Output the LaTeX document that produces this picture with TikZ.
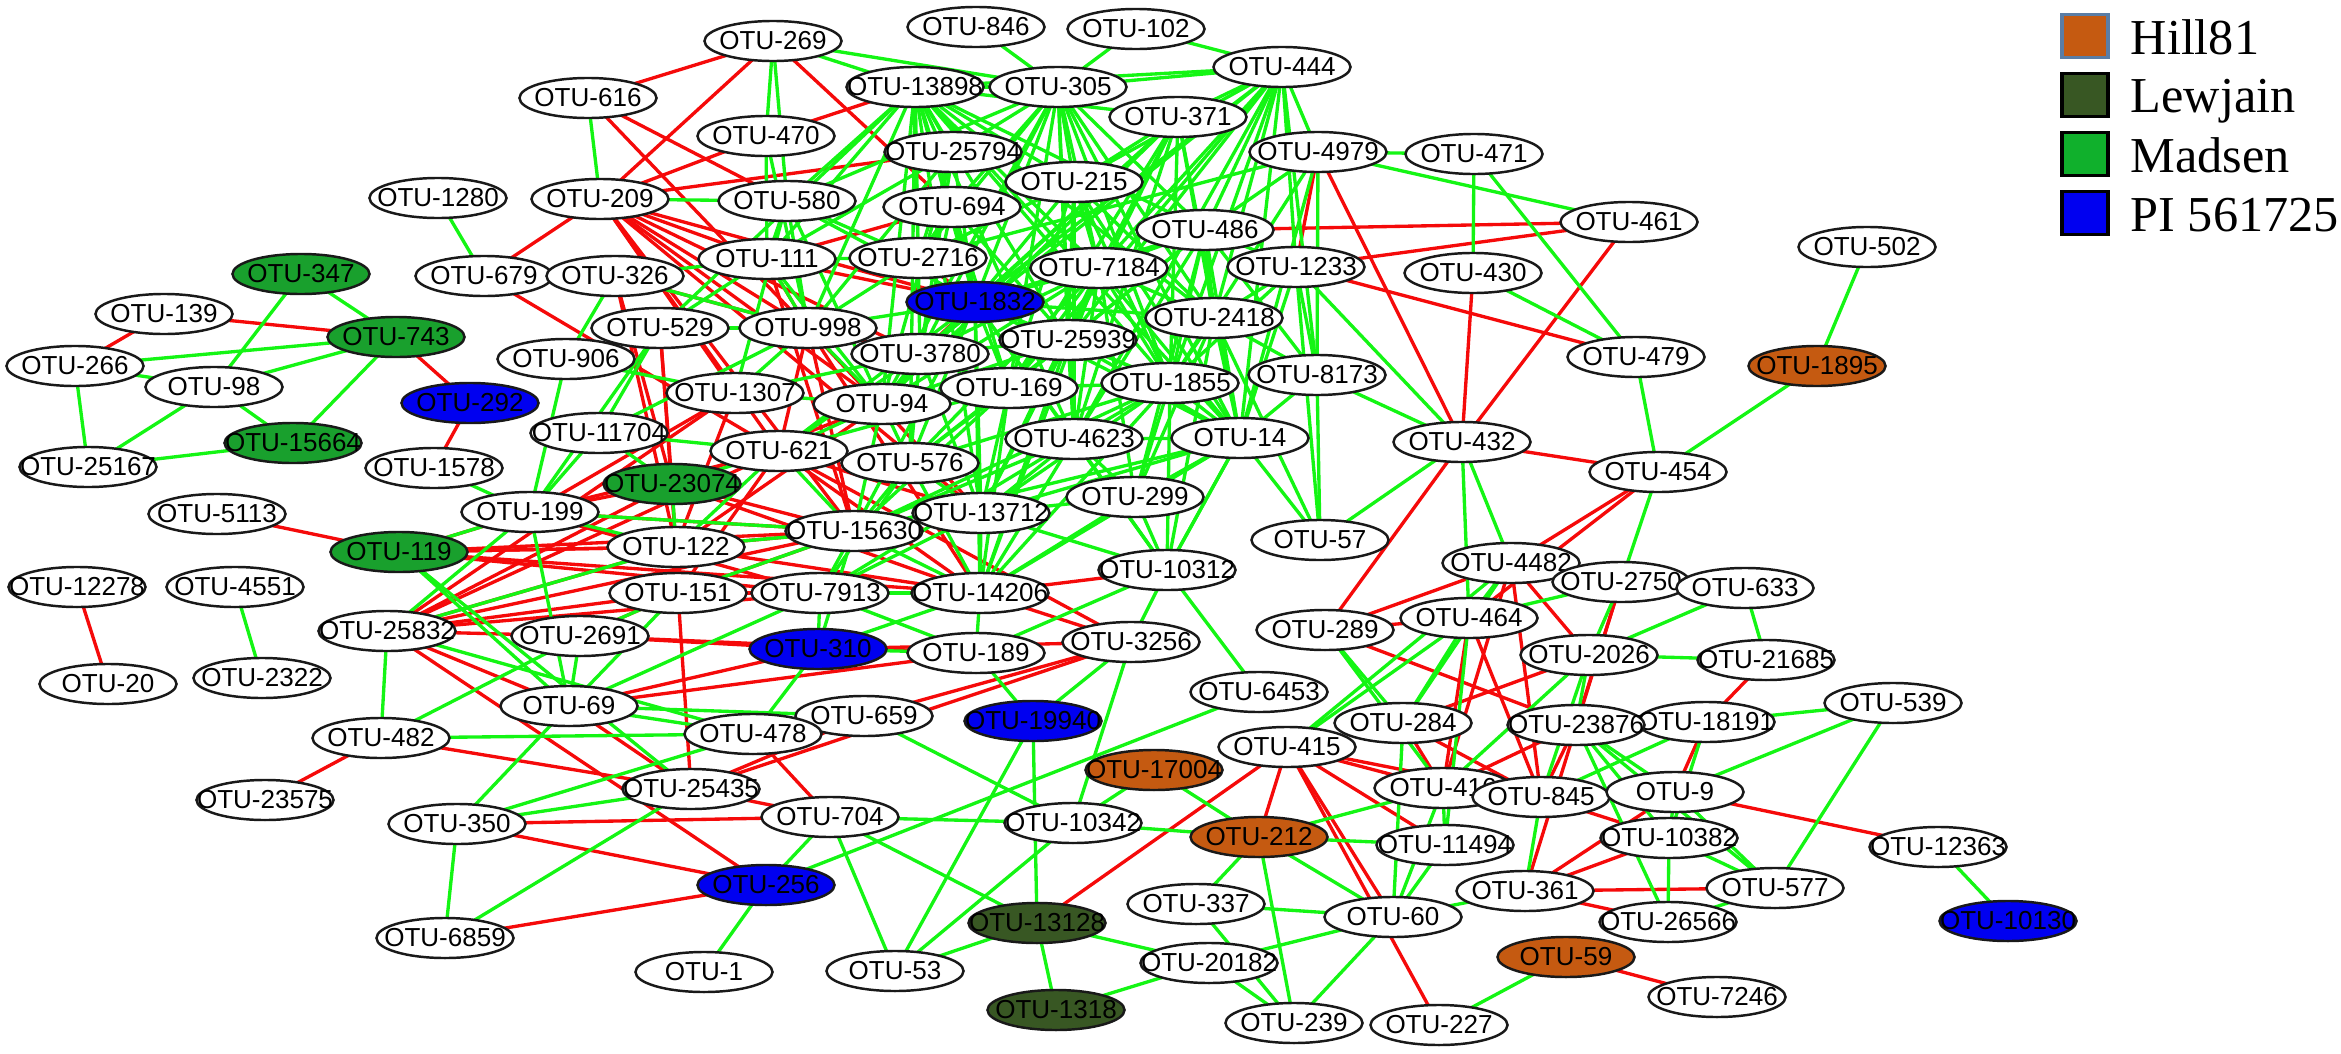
\documentclass[tikz,border=0pt]{standalone}
\usepackage{fontspec}
\setmainfont{Liberation Sans}
\newfontfamily\legfont{Liberation Serif}
\usetikzlibrary{shapes.geometric,backgrounds}
\definecolor{hill}{RGB}{197,90,17}
\definecolor{lew}{RGB}{56,87,35}
\definecolor{mad}{RGB}{25,160,45}
\definecolor{madleg}{RGB}{16,176,44}
\definecolor{pib}{RGB}{0,0,240}
\definecolor{egreen}{RGB}{20,245,20}
\definecolor{ered}{RGB}{245,10,10}
\definecolor{hillborder}{RGB}{90,125,165}
\tikzset{
  otu/.style={ellipse,draw=black!90,line width=0.7pt,fill=white,minimum width=1.37cm,minimum height=0.40cm,inner sep=0pt,font=\fontsize{7.4}{8}\selectfont},
  hl/.style={fill=hill}, lw/.style={fill=lew}, md/.style={fill=mad}, pb/.style={fill=pib},
  ge/.style={draw=egreen,line width=0.95pt},
  re/.style={draw=ered,line width=0.95pt},
  legbox/.style={draw=black,line width=1pt,minimum width=0.46cm,minimum height=0.43cm,inner sep=0pt},
  legtxt/.style={anchor=base west,inner sep=0pt,font=\legfont\fontsize{14.3}{16}\selectfont}
}
\newcommand\mkotu[3][]{\node[otu,#1] (n#2) at (#3) {\makebox[0pt]{OTU-#2}};}
\begin{document}
\begin{tikzpicture}[x=0.01cm,y=-0.01cm]
\useasboundingbox (0,0) rectangle (2341,1054);
% nodes
\mkotu{269}{773,41}
\mkotu{846}{976,27}
\mkotu{102}{1136,29}
\mkotu{444}{1282,67}
\mkotu{616}{588,98}
\mkotu{13898}{915,87}
\mkotu{305}{1058,87}
\mkotu{371}{1178,117}
\mkotu{470}{766,136}
\mkotu{25794}{953,152}
\mkotu{4979}{1318,152}
\mkotu{471}{1474,154}
\mkotu{215}{1074,182}
\mkotu{1280}{438,198}
\mkotu{209}{600,199}
\mkotu{580}{787,201}
\mkotu{694}{952,207}
\mkotu{486}{1205,230}
\mkotu{461}{1629,222}
\mkotu{502}{1867,247}
\mkotu{679}{484,276}
\mkotu{326}{615,276}
\mkotu{111}{767,259}
\mkotu{2716}{918,258}
\mkotu{7184}{1099,268}
\mkotu{1233}{1296,267}
\mkotu{430}{1473,273}
\mkotu[md]{347}{301,274}
\mkotu[pb]{1832}{975,302}
\mkotu{139}{164,314}
\mkotu[md]{743}{396,337}
\mkotu{529}{660,328}
\mkotu{998}{808,328}
\mkotu{2418}{1214,318}
\mkotu{3780}{920,354}
\mkotu{25939}{1068,340}
\mkotu{266}{75,366}
\mkotu{906}{566,359}
\mkotu{479}{1636,357}
\mkotu[hl]{1895}{1817,366}
\mkotu{98}{214,387}
\mkotu[pb]{292}{470,403}
\mkotu{1307}{735,393}
\mkotu{94}{882,404}
\mkotu{169}{1009,388}
\mkotu{1855}{1170,383}
\mkotu{8173}{1317,375}
\mkotu{11704}{599,433}
\mkotu{4623}{1074,439}
\mkotu{14}{1240,438}
\mkotu{432}{1462,442}
\mkotu[md]{15664}{293,443}
\mkotu{621}{779,451}
\mkotu{576}{910,463}
\mkotu{25167}{88,467}
\mkotu{1578}{434,468}
\mkotu{454}{1658,472}
\mkotu[md]{23074}{672,484}
\mkotu{299}{1135,497}
\mkotu{5113}{217,514}
\mkotu{199}{530,512}
\mkotu{13712}{981,513}
\mkotu{15630}{854,531}
\mkotu{57}{1320,540}
\mkotu{122}{676,547}
\mkotu[md]{119}{399,552}
\mkotu{4482}{1511,563}
\mkotu{10312}{1167,570}
\mkotu{2750}{1621,582}
\mkotu{633}{1745,588}
\mkotu{12278}{77,587}
\mkotu{4551}{235,587}
\mkotu{151}{678,593}
\mkotu{7913}{820,593}
\mkotu{14206}{980,593}
\mkotu{464}{1469,618}
\mkotu{289}{1325,630}
\mkotu{25832}{387,631}
\mkotu{2691}{580,636}
\mkotu{3256}{1131,642}
\mkotu[pb]{310}{818,649}
\mkotu{189}{976,653}
\mkotu{2026}{1589,655}
\mkotu{21685}{1766,660}
\mkotu{20}{108,684}
\mkotu{2322}{262,678}
\mkotu{6453}{1259,692}
\mkotu{69}{569,706}
\mkotu{539}{1893,703}
\mkotu{659}{864,716}
\mkotu[pb]{19940}{1033,721}
\mkotu{284}{1403,723}
\mkotu{18191}{1706,722}
\mkotu{23876}{1576,725}
\mkotu{478}{753,734}
\mkotu{482}{381,738}
\mkotu{415}{1287,747}
\mkotu[hl]{17004}{1154,770}
\mkotu{416}{1443,788}
\mkotu{845}{1541,797}
\mkotu{9}{1675,792}
\mkotu{25435}{691,789}
\mkotu{23575}{265,800}
\mkotu{704}{830,817}
\mkotu{10342}{1073,823}
\mkotu{350}{457,824}
\mkotu[hl]{212}{1259,837}
\mkotu{11494}{1445,845}
\mkotu{10382}{1669,838}
\mkotu{12363}{1938,847}
\mkotu[pb]{256}{766,885}
\mkotu{577}{1775,888}
\mkotu{361}{1525,891}
\mkotu{337}{1196,904}
\mkotu{60}{1393,917}
\mkotu[pb]{10130}{2008,921}
\mkotu[lw]{13128}{1037,923}
\mkotu{26566}{1668,922}
\mkotu{6859}{445,938}
\mkotu[hl]{59}{1566,957}
\mkotu{20182}{1209,963}
\mkotu{53}{895,971}
\mkotu{1}{704,972}
\mkotu{7246}{1717,997}
\mkotu[lw]{1318}{1056,1010}
\mkotu{239}{1294,1023}
\mkotu{227}{1439,1025}
% legend
\node[legbox,fill=hill,draw=hillborder] (lhill) at (2085,36) {};
\node[legbox,fill=lew] (llew) at (2085,95) {};
\node[legbox,fill=madleg] (lmad) at (2085,154) {};
\node[legbox,fill=pib] (lpi) at (2085,213) {};
\node[legtxt] (thill) at (2130,54) {Hill81};
\node[legtxt] (tlew) at (2130,112) {Lewjain};
\node[legtxt] (tmad) at (2130,172) {Madsen};
\node[legtxt] (tpi) at (2130,231) {PI 561725};
% edges
\begin{pgfonlayer}{background}
\foreach \a/\b in {269/616, 269/209, 269/694, 616/580, 616/998, 679/209, 679/621, 139/743, 139/266, 743/292, 292/1578, 5113/119, 12278/20, 482/23575, 482/25435, 350/704, 350/256, 6859/256, 25832/256, 478/704, 25435/704, 25435/659, 659/3256, 25435/3256, 13128/415, 415/212, 415/60, 415/227, 415/416, 415/845, 415/11494, 59/7246, 361/577, 361/26566, 10382/361, 9/361, 9/12363, 9/18191, 18191/21685, 4979/1233, 4979/432, 430/432, 461/432, 1233/479, 1233/461, 486/461, 432/454, 432/289, 454/4482, 454/464, 4482/289, 289/23876, 4482/2026, 470/13898, 209/470, 209/25794, 111/694,
 4482/845, 4482/416, 464/416, 464/845, 2750/361, 284/416, 284/845, 2750/23876, 2026/284, 23876/416, 23876/845, 845/10382, 289/464,
 209/111, 209/1832, 209/998, 209/3780, 209/94, 209/15630, 209/13712, 209/1307, 209/621, 326/23074, 326/122, 326/998, 111/1832, 111/998, 111/15630, 998/3780, 998/13712, 998/14206, 998/621, 998/15630, 529/23074, 529/122, 1307/199, 1307/122, 1307/25832, 94/122, 94/23074, 621/14206, 621/13712, 621/3256, 621/199, 621/25832, 621/151, 23074/15630, 23074/14206, 23074/151, 23074/199, 23074/25832, 122/15630, 122/14206, 122/119, 151/7913, 151/14206, 151/15630, 151/2691, 7913/14206, 119/15630, 119/122, 119/7913, 119/14206, 119/199, 199/15630, 199/7913, 25832/15630, 25832/122, 25832/151, 25832/7913, 25832/69, 25832/2691, 2691/310, 2691/189, 69/310, 69/189, 310/3256, 14206/10312, 14206/3256, 1832/3780, 2716/1832, 151/25435, 69/25435}
  {\draw[re] (n\a.center) -- (n\b.center);}
\foreach \a/\b in {1280/679, 616/209, 347/743, 347/98, 266/743, 98/743, 743/15664, 266/98, 266/25167, 98/25167, 98/15664, 25167/15664, 1578/199, 4551/2322, 502/1895, 1895/454, 479/454, 471/430, 4979/471, 4979/461, 471/479, 430/479, 8173/14, 8173/57, 8173/432, 14/57, 432/57, 432/464, 432/4482, 454/2750, 464/2750, 4482/2750, 633/21685, 633/2026, 2026/21685, 10312/6453, 14/10312, 18191/539, 539/9, 539/577, 12363/10130, 212/11494, 212/60, 212/337, 212/239, 212/416, 337/60, 337/239, 20182/60, 20182/239, 239/60, 60/11494, 60/416, 60/361, 227/59, 26566/10382, 26566/577, 845/361, 13128/20182, 13128/1318, 1318/20182, 53/13128, 704/53, 704/13128, 704/10342, 53/19940, 53/10342, 19940/13128, 10342/3256, 10342/17004, 10342/212, 17004/212, 256/704, 256/1, 256/6453, 659/10342, 69/350, 350/6859, 6859/25435, 482/25832, 482/2691, 482/478, 289/284, 119/69, 1233/432,
 4482/464, 4482/284, 464/284, 464/415, 2750/2026, 2026/23876, 2026/845, 2026/416, 23876/18191, 23876/9, 23876/10382, 23876/26566, 23876/577, 18191/845, 18191/10382, 9/10382, 9/577, 10382/577, 416/11494, 284/60, 415/4482, 289/416, 11494/464,
 13898/25794, 13898/580, 13898/111, 13898/2716, 13898/1832, 13898/998, 13898/3780, 13898/94, 13898/169, 13898/4623, 13898/1855, 13898/14, 13898/576, 13898/13712, 13898/215, 13898/7184, 13898/486, 13898/25939, 13898/2418, 13898/529,
 305/25794, 305/215, 305/694, 305/2716, 305/1832, 305/7184, 305/25939, 305/3780, 305/94, 305/169, 305/4623, 305/14, 305/1855, 305/2418, 305/486, 305/580, 305/13898,
 444/13898, 444/305, 444/102, 444/371, 444/215, 444/7184, 444/486, 444/1832, 444/25939, 444/1855, 444/4623, 444/169, 444/14, 444/2418, 444/1233, 444/8173, 444/4979, 444/3780,
 371/13898, 371/1832, 371/25939, 371/1855, 371/4623, 371/169, 371/14, 371/2418, 371/7184, 371/94, 371/3780, 371/215,
 846/305, 102/305, 269/470, 269/580, 269/13898, 269/305, 470/998, 470/111,
 580/209, 580/111, 580/2716, 580/1832, 580/998, 580/1307, 580/94,
 25794/2716, 25794/1832, 25794/998, 25794/3780, 25794/111, 25794/94,
 215/1832, 215/7184, 215/25939, 215/2418, 215/1855, 215/14, 215/4623, 215/169, 215/2716,
 694/1832, 694/2716, 694/3780, 694/25939,
 486/1832, 486/7184, 486/25939, 486/2418, 486/1855, 486/14, 486/4623, 486/8173, 486/1233, 486/169, 486/299, 486/4979,
 4979/1855, 4979/14, 4979/8173, 4979/2716,
 1233/2418, 1233/1855, 1233/8173, 1233/14, 1233/57,
 2418/1855, 2418/14, 2418/8173, 2418/299, 2418/10312, 2418/57,
 7184/1832, 7184/25939, 7184/2418, 7184/1855, 7184/14, 7184/4623, 7184/169, 7184/94, 7184/3780, 7184/13712, 7184/299, 7184/576, 7184/14206,
 1832/25939, 1832/998, 1832/94, 1832/169, 1832/4623, 1832/1855, 1832/14, 1832/13712, 1832/576, 1832/621, 1832/2418, 1832/15630, 1832/14206, 1832/10312,
 25939/169, 25939/1855, 25939/4623, 25939/14, 25939/94, 25939/576, 25939/13712, 25939/14206, 25939/3780,
 3780/94, 3780/169, 3780/576, 3780/621, 3780/1307, 3780/13712,
 169/94, 169/576, 169/13712, 169/14206, 169/15630, 169/621,
 1855/14, 1855/4623, 1855/169, 1855/13712, 1855/14206, 1855/10312, 1855/299, 1855/15630, 1855/576,
 4623/14, 4623/13712, 4623/14206, 4623/15630, 4623/10312, 4623/299, 4623/7913,
 14/299, 14/10312, 14/13712, 14/14206, 14/15630,
 94/998, 94/111, 94/1307, 94/621, 94/576, 94/15630,
 998/111, 998/529, 998/326, 998/2716, 998/1307, 998/11704,
 111/2716, 111/326, 111/529, 326/679, 326/906, 529/906, 529/11704, 529/199, 906/199, 906/1307, 11704/23074, 11704/199,
 621/15630, 621/122, 621/23074, 621/11704,
 576/15630, 576/13712, 576/7913, 576/14206,
 13712/15630, 13712/14206, 13712/7913, 13712/299, 13712/10312,
 15630/122, 15630/199, 15630/151, 15630/7913, 15630/14206, 15630/310,
 299/10312, 299/14206, 10312/3256, 10312/189,
 14206/189, 14206/310, 14206/7913,
 7913/310, 7913/189, 7913/69,
 122/199, 122/25832, 122/23074, 151/69, 151/2691, 199/119, 199/25832, 199/69, 2691/69,
 69/478, 69/659, 478/659, 478/25832, 478/350, 478/310, 25435/350, 25435/119, 310/189, 189/19940, 3256/19940}
  {\draw[ge] (n\a.center) -- (n\b.center);}
\end{pgfonlayer}
\end{tikzpicture}
\end{document}
